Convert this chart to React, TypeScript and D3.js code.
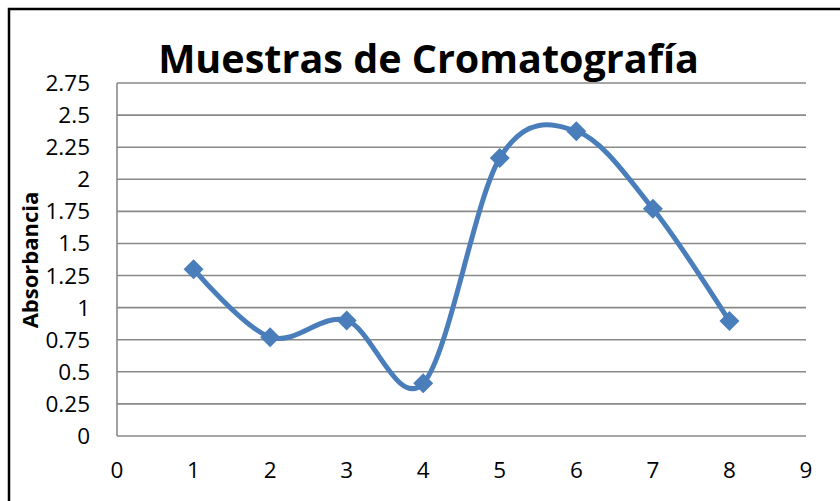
import React from 'react';
import * as d3 from 'd3';

// sample number vs absorbance
const muestras = [1, 2, 3, 4, 5, 6, 7, 8];
const absorbancia = [1.3, 0.77, 0.9, 0.41, 2.165, 2.375, 1.77, 0.895];
const yTicks = [0, 0.25, 0.5, 0.75, 1, 1.25, 1.5, 1.75, 2, 2.25, 2.5, 2.75];
const xTicks = [0, 1, 2, 3, 4, 5, 6, 7, 8, 9];

const W = 840, H = 501;
const font = '"Open Sans", "Liberation Sans", sans-serif';
const blue = '#4a7ebb';

export default function App() {
  const x = d3.scaleLinear().domain([0, 9]).range([117, 806]);
  const y = d3.scaleLinear().domain([0, 2.75]).range([436, 83]);

  const pts = muestras.map((m, i) => [m, absorbancia[i]] as [number, number]);
  const line = d3.line<[number, number]>()
    .x(d => x(d[0]))
    .y(d => y(d[1]))
    .curve(d3.curveCatmullRom.alpha(0));

  const fmt = (v: number) => String(v);

  return (
    <svg width={W} height={H} style={{position: 'absolute', left: 0, top: 0, display: 'block', background: '#fff'}}>
      <rect x={9} y={9} width={900} height={600} fill="#fff" stroke="#000" strokeWidth={2.5} />

      <text x={428.5} y={73} textAnchor="middle" fontFamily={font} fontWeight="bold" fontSize={39.5} fill="#000">
        Muestras de Cromatografía
      </text>

      {yTicks.map(t => (
        <line key={'g' + t} x1={x(0)} x2={x(9)} y1={y(t)} y2={y(t)} stroke="#898989" strokeWidth={1.6} />
      ))}
      <line x1={x(0)} x2={x(0)} y1={y(0)} y2={y(2.75)} stroke="#898989" strokeWidth={1.6} />

      {yTicks.map(t => (
        <text key={'y' + t} x={90} y={y(t) + 8} textAnchor="end" fontFamily={font} fontSize={22.5} fill="#000">
          {fmt(t)}
        </text>
      ))}
      {xTicks.map(t => (
        <text key={'x' + t} x={x(t)} y={478} textAnchor="middle" fontFamily={font} fontSize={22.5} fill="#000">
          {t}
        </text>
      ))}

      <text transform="translate(38,260) rotate(-90)" textAnchor="middle" fontFamily={font} fontWeight="bold" fontSize={22} fill="#000">
        Absorbancia
      </text>

      <path d={line(pts) || ''} fill="none" stroke={blue} strokeWidth={5} strokeLinejoin="round" />
      {pts.map((p, i) => {
        const cx = x(p[0]), cy = y(p[1]), r = 10;
        return (
          <path key={'m' + i} d={`M${cx},${cy - r}L${cx + r},${cy}L${cx},${cy + r}L${cx - r},${cy}Z`} fill={blue} />
        );
      })}
    </svg>
  );
}
